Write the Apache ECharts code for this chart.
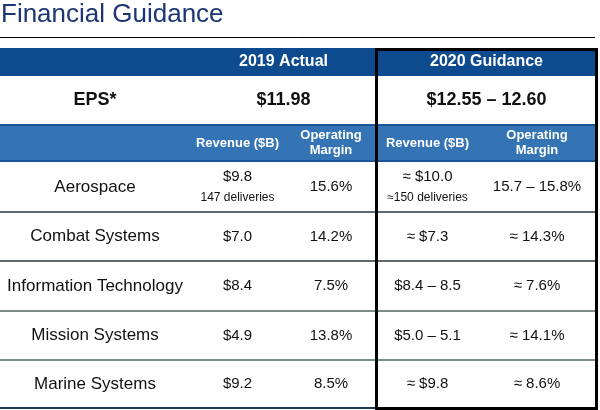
<!DOCTYPE html>
<html><head><meta charset="utf-8">
<script src="https://cdn.jsdelivr.net/npm/echarts@6/dist/echarts.min.js"></script>
<style>html,body{margin:0;padding:0;background:#fff}#c{width:600px;height:410px}</style>
</head><body><div id="c"></div>
<script>
// ---------- data ----------
const title = 'Financial Guidance';
const periods = ['2019 Actual', '2020 Guidance'];
const epsLabel = 'EPS*';
const eps = ['$11.98', '$12.55 – 12.60'];
const metricHeaders = ['Revenue ($B)', 'Operating\nMargin', 'Revenue ($B)', 'Operating\nMargin'];
const segments = ['Aerospace', 'Combat Systems', 'Information Technology', 'Mission Systems', 'Marine Systems'];
const revenue2019 = ['$9.8', '$7.0', '$8.4', '$4.9', '$9.2'];
const deliveries2019 = ['147 deliveries', '', '', '', ''];
const margin2019 = ['15.6%', '14.2%', '7.5%', '13.8%', '8.5%'];
const revenue2020 = ['≈ $10.0', '≈ $7.3', '$8.4 – 8.5', '$5.0 – 5.1', '≈ $9.8'];
const deliveries2020 = ['≈150 deliveries', '', '', '', ''];
const margin2020 = ['15.7 – 15.8%', '≈ 14.3%', '≈ 7.6%', '≈ 14.1%', '≈ 8.6%'];

// ---------- layout ----------
const FONT = '"Liberation Sans", Arial, sans-serif';
const colEdges = [0, 190, 285, 377, 478, 596];
const headerRow = [48, 76];
const epsRow = [76, 124];
const subRow = [124, 162];
const bodyEdges = [162, 212, 261, 311, 360, 408];
const DARK = '#0d4a8e', LIGHT = '#3474b4', EDGE = '#1a5597';

const cells = [];
function cell(x0, x1, y0, y1, o) { cells.push(Object.assign({ v: [x0, y0, x1, y1] }, o)); }

// header row
cell(0, 596, headerRow[0], headerRow[1], { fill: DARK });
cell(colEdges[1], colEdges[3], headerRow[0], headerRow[1], { text: periods[0], font: 'bold 16px ' + FONT, color: '#fff' });
cell(colEdges[3], colEdges[5], headerRow[0], headerRow[1], { text: periods[1], font: 'bold 16px ' + FONT, color: '#fff' });
// EPS row
cell(colEdges[0], colEdges[1], epsRow[0], epsRow[1], { text: epsLabel, font: 'bold 18px ' + FONT, color: '#111' });
cell(colEdges[1], colEdges[3], epsRow[0], epsRow[1], { text: eps[0], font: 'bold 18px ' + FONT, color: '#111' });
cell(colEdges[3], colEdges[5], epsRow[0], epsRow[1], { text: eps[1], font: 'bold 18px ' + FONT, color: '#111' });
// sub header
cell(0, 596, subRow[0], subRow[1], { fill: LIGHT, edge: EDGE });
metricHeaders.forEach((h, i) => cell(colEdges[i + 1], colEdges[i + 2], subRow[0], subRow[1], { text: h, font: 'bold 13px ' + FONT, color: '#fff', lh: 15 }));
// body
segments.forEach((s, r) => {
  const y0 = bodyEdges[r], y1 = bodyEdges[r + 1];
  const cols = [[s, ''], [revenue2019[r], deliveries2019[r]], [margin2019[r], ''], [revenue2020[r], deliveries2020[r]], [margin2020[r], '']];
  cols.forEach((c, i) => cell(colEdges[i], colEdges[i + 1], y0, y1, {
    text: c[0], sub: c[1], font: (i === 0 ? '17px ' : '15px ') + FONT, color: '#111'
  }));
});

const rules = [
  { v: [0, 37.5, 595, 37.5], color: '#000', w: 1 },
  { v: [0, 212, 596, 212], color: '#2e3840', w: 1.5 },
  { v: [0, 261, 596, 261], color: '#2e3840', w: 1.5 },
  { v: [0, 311, 596, 311], color: '#7f8d8a', w: 2 },
  { v: [0, 360, 596, 360], color: '#7f8d8a', w: 2 },
  { v: [0, 408, 596, 408], color: '#1e3a5c', w: 2 }
];
const box = [[376.5, 49.5, 596.5, 408.5]];

const chart = echarts.init(document.getElementById('c'), null, { renderer: 'canvas' });
chart.setOption({
  animation: false,
  title: { text: title, left: 1, top: 2, padding: 0, textStyle: { fontFamily: FONT, fontSize: 26, fontWeight: 'normal', color: '#1b3672' } },
  grid: { left: 0, right: 0, top: 0, bottom: 0 },
  xAxis: { type: 'value', min: 0, max: 600, show: false },
  yAxis: { type: 'value', min: 0, max: 410, inverse: true, show: false },
  series: [
    {
      type: 'custom', z: 1,
      data: cells.map(c => c.v),
      renderItem(params, api) {
        const c = cells[params.dataIndex];
        const p0 = api.coord([api.value(0), api.value(1)]);
        const p1 = api.coord([api.value(2), api.value(3)]);
        const ch = [];
        if (c.fill) {
          ch.push({ type: 'rect', shape: { x: p0[0], y: p0[1], width: p1[0] - p0[0], height: p1[1] - p0[1] }, style: { fill: c.fill } });
          if (c.edge) {
            ch.push({ type: 'line', shape: { x1: p0[0], y1: p0[1] + 1, x2: p1[0], y2: p0[1] + 1 }, style: { stroke: c.edge, lineWidth: 2 } });
            ch.push({ type: 'line', shape: { x1: p0[0], y1: p1[1] - 1, x2: p1[0], y2: p1[1] - 1 }, style: { stroke: c.edge, lineWidth: 2 } });
          }
        }
        if (c.text) {
          const cx = (p0[0] + p1[0]) / 2, cy = (p0[1] + p1[1]) / 2;
          const hasSub = !!c.sub;
          ch.push({ type: 'text', z2: 10, style: { text: c.text, x: cx, y: hasSub ? cy - 10 : cy, align: 'center', verticalAlign: 'middle', font: c.font, fill: c.color, lineHeight: c.lh || undefined } });
          if (hasSub) ch.push({ type: 'text', z2: 10, style: { text: c.sub, x: cx, y: cy + 11, align: 'center', verticalAlign: 'middle', font: '12px ' + FONT, fill: c.color } });
        }
        return { type: 'group', children: ch };
      }
    },
    {
      type: 'custom', z: 2,
      data: rules.map(r => r.v),
      renderItem(params, api) {
        const r = rules[params.dataIndex];
        const a = api.coord([api.value(0), api.value(1)]);
        const b = api.coord([api.value(2), api.value(3)]);
        return { type: 'line', shape: { x1: a[0], y1: a[1], x2: b[0], y2: b[1] }, style: { stroke: r.color, lineWidth: r.w } };
      }
    },
    {
      type: 'custom', z: 3,
      data: box,
      renderItem(params, api) {
        const a = api.coord([api.value(0), api.value(1)]);
        const b = api.coord([api.value(2), api.value(3)]);
        return { type: 'rect', shape: { x: a[0], y: a[1], width: b[0] - a[0], height: b[1] - a[1] }, style: { fill: null, stroke: '#000', lineWidth: 3 } };
      }
    }
  ]
});
</script></body></html>
